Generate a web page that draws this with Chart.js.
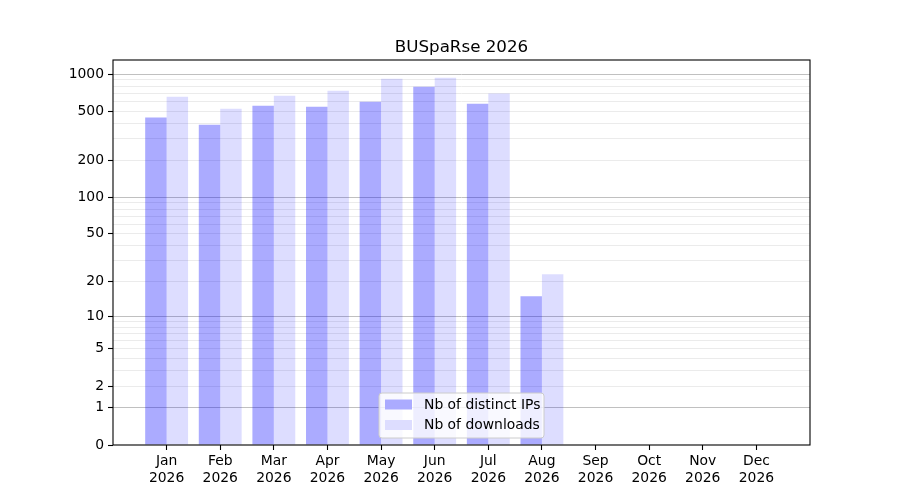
<!DOCTYPE html>
<html lang="en">
<head>
    <meta charset="UTF-8">
    <title>BUSpaRse 2026</title>
    <script src="https://cdn.jsdelivr.net/npm/chart.js"></script>
    <style>
        body { margin: 0; background: #fff; }
        #wrap { width: 900px; height: 500px; }
    </style>
</head>
<body>
    <div id="wrap">
        <canvas id="chartStats" width="900" height="500"></canvas>
    </div>

    <script>
        // data
        var months = ['Jan', 'Feb', 'Mar', 'Apr', 'May', 'Jun', 'Jul', 'Aug', 'Sep', 'Oct', 'Nov', 'Dec'];
        var year = '2026';
        var distinctIPs = [445, 388, 553, 543, 596, 789, 574, 15, 0, 0, 0, 0];
        var downloads = [655, 523, 667, 732, 916, 933, 696, 23, 0, 0, 0, 0];
        var yLabelTicks = [0, 1, 2, 5, 10, 20, 50, 100, 200, 500, 1000];
        var yMajorTicks = [1, 10, 100, 1000];
        var yMinorTicks = [3, 4, 6, 7, 8, 9, 30, 40, 60, 70, 80, 90, 300, 400, 600, 700, 800, 900];

        var FONT = 'DejaVu Sans';
        var ipColor = 'rgba(0, 0, 255, 0.33)';
        var dlColor = 'rgba(0, 0, 255, 0.135)';

        // y axis is log10(1 + v)
        function f(v) { return Math.log10(1 + v); }
        function finv(t) { return Math.pow(10, t) - 1; }

        class Log1pScale extends Chart.Scale {
            static id = 'log1p';
            static defaults = {};
            determineDataLimits() {
                var mm = this.getMinMax(true);
                this.min = this.options.min != null ? this.options.min : Math.max(0, mm.min);
                this.max = this.options.max != null ? this.options.max : mm.max;
            }
            buildTicks() {
                var all = yLabelTicks.concat(yMinorTicks).sort(function(a, b) { return a - b; });
                var self = this;
                return all.filter(function(v) { return v >= self.min && v <= self.max; })
                          .map(function(v) { return { value: v }; });
            }
            configure() {
                super.configure();
                this._start = f(this.min);
                this._range = f(this.max) - this._start;
            }
            getPixelForValue(value) {
                return this.getPixelForDecimal((f(value) - this._start) / this._range);
            }
            getValueForPixel(pixel) {
                return finv(this._start + this.getDecimalForPixel(pixel) * this._range);
            }
            getLabelForValue(value) { return String(value); }
        }
        Chart.register(Log1pScale);

        // title, frame around the plot + legend in lower centre
        var framePlugin = {
            id: 'frame',
            afterDraw: function(chart) {
                var ctx = chart.ctx, a = chart.chartArea;
                ctx.save();
                ctx.strokeStyle = '#000';
                ctx.lineWidth = 1.1;
                ctx.strokeRect(a.left, a.top, a.right - a.left, a.bottom - a.top);

                // title
                ctx.fillStyle = '#000';
                ctx.font = '16.7px "' + FONT + '"';
                ctx.textAlign = 'center';
                ctx.textBaseline = 'alphabetic';
                ctx.fillText('BUSpaRse ' + year, (a.left + a.right) / 2, a.top - 8);

                // legend box
                var w = 165, h = 45;
                var x = (a.left + a.right) / 2 - w / 2;
                var y = a.bottom - 7 - h;
                ctx.beginPath();
                if (ctx.roundRect) ctx.roundRect(x, y, w, h, 3); else ctx.rect(x, y, w, h);
                ctx.fillStyle = 'rgba(255,255,255,0.8)';
                ctx.fill();
                ctx.strokeStyle = '#cccccc';
                ctx.lineWidth = 1;
                ctx.stroke();

                var items = [[chart.data.datasets[0].label, ipColor], [chart.data.datasets[1].label, dlColor]];
                ctx.font = '13.9px "' + FONT + '"';
                ctx.textAlign = 'left';
                ctx.textBaseline = 'middle';
                items.forEach(function(it, i) {
                    var py = y + 6.5 + i * 20.5;
                    ctx.fillStyle = '#fff';
                    ctx.fillRect(x + 6, py, 27, 10);
                    ctx.fillStyle = it[1];
                    ctx.fillRect(x + 6, py, 27, 10);
                    ctx.fillStyle = '#000';
                    ctx.fillText(it[0], x + 45, py + 5.5);
                });
                ctx.restore();
            }
        };

        var ctxStats = document.getElementById('chartStats').getContext('2d');
        var chartStats = new Chart(ctxStats, {
            type: 'bar',
            data: {
                datasets: [{
                    label: 'Nb of distinct IPs',
                    data: distinctIPs.map(function(v, i) { return { x: i, y: v }; }),
                    backgroundColor: ipColor,
                    borderWidth: 0,
                    barPercentage: 1,
                    categoryPercentage: 0.8
                }, {
                    label: 'Nb of downloads',
                    data: downloads.map(function(v, i) { return { x: i, y: v }; }),
                    backgroundColor: dlColor,
                    borderWidth: 0,
                    barPercentage: 1,
                    categoryPercentage: 0.8
                }]
            },
            options: {
                responsive: false,
                animation: false,
                devicePixelRatio: 1,
                layout: { padding: { left: 0, right: 90, top: 60, bottom: 0 } },
                plugins: {
                    legend: { display: false },
                    tooltip: { enabled: false },
                    title: { display: false }
                },
                scales: {
                    x: {
                        type: 'linear',
                        min: -1,
                        max: 12,
                        offset: false,
                        afterBuildTicks: function(scale) {
                            scale.ticks = months.map(function(m, i) { return { value: i }; });
                        },
                        afterFit: function(scale) { scale.height = 55; },
                        border: { display: false },
                        grid: {
                            offset: false,
                            drawOnChartArea: false,
                            drawTicks: true,
                            tickLength: 5,
                            tickColor: '#000',
                            tickWidth: 1.1
                        },
                        ticks: {
                            autoSkip: false,
                            maxRotation: 0,
                            padding: 3,
                            color: '#000',
                            font: { family: FONT, size: 13.9, lineHeight: 1.2 },
                            callback: function(value) { return [months[value], year]; }
                        }
                    },
                    y: {
                        type: 'log1p',
                        min: 0,
                        max: 1299,
                        afterFit: function(scale) { scale.width = 113; },
                        border: { display: false },
                        grid: {
                            drawTicks: true,
                            tickLength: 5,
                            lineWidth: 1,
                            color: function(c) {
                                if (!c.tick) return 'rgba(0,0,0,0)';
                                if (c.tick.value === 0) return 'rgba(0,0,0,0)';
                                return yMajorTicks.indexOf(c.tick.value) >= 0 ? '#c0c0c0' : '#ebebeb';
                            },
                            tickColor: function(c) {
                                if (!c.tick) return 'rgba(0,0,0,0)';
                                return yLabelTicks.indexOf(c.tick.value) >= 0 ? '#000' : 'rgba(0,0,0,0)';
                            },
                            tickWidth: 1.1
                        },
                        ticks: {
                            autoSkip: false,
                            padding: 4,
                            color: '#000',
                            font: { family: FONT, size: 13.9 },
                            callback: function(value) {
                                return yLabelTicks.indexOf(value) >= 0 ? String(value) : '';
                            }
                        }
                    }
                }
            },
            plugins: [framePlugin]
        });
    </script>
</body>
</html>
